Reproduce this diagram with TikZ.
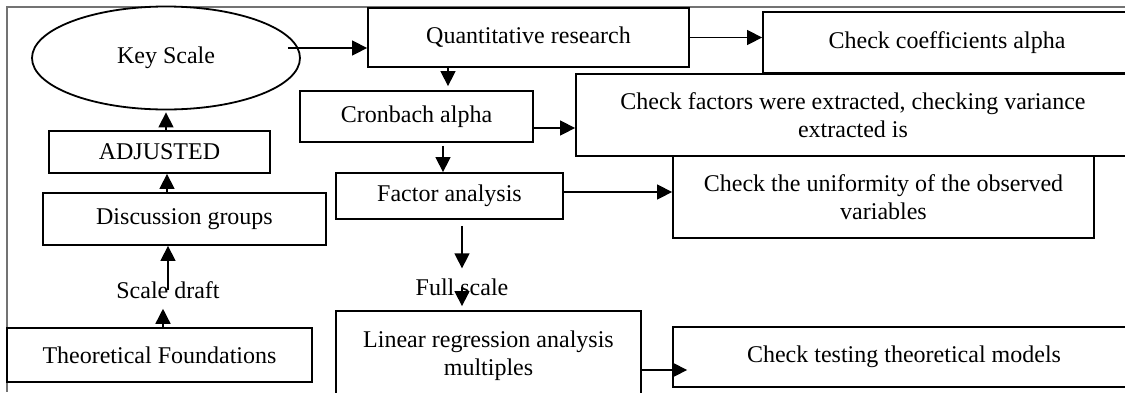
\documentclass[tikz,border=0pt]{standalone}
\usepackage{fontspec}
\setmainfont{Liberation Serif}
\usepackage{tikz}
\usetikzlibrary{shapes.geometric}
\usetikzlibrary{arrows.meta}

\begin{document}
\begin{tikzpicture}[x=1pt, y=-1pt]
    \tikzstyle processbox=[draw, line width=1.8pt, fill=white, inner sep=0pt, align=center, font=\fontsize{24}{27.5}\selectfont]
    \tikzstyle plaintext=[inner sep=10pt, font=\fontsize{24}{27.5}\selectfont]
    \tikzstyle flow=[line width=1.4pt, -{Triangle[length=15pt,width=15pt]}]
    \path[use as bounding box, clip] (0,0) rectangle (1125,392);
    \draw[line width=1.2pt, black!55] (1125,7) -- (7,7) -- (7,392);
    % left column
    \node[processbox, ellipse, minimum width=268pt, minimum height=103pt] (keyscale) at (166,58) {Key Scale};
    \node[processbox, minimum width=221pt, minimum height=42pt] (adjusted) at (159.5,152) {ADJUSTED};
    \node[processbox, minimum width=283pt, minimum height=52pt] (discussion) at (184.5,219) {Discussion groups};
    \node[plaintext] (scaledraft) at (168,290) {Scale draft};
    \node[processbox, minimum width=305pt, minimum height=54pt] (theory) at (159.5,355) {Theoretical Foundations};
    % middle column
    \node[processbox, minimum width=321pt, minimum height=59pt] (quant) at (528.5,37.5) {Quantitative research};
    \node[processbox, minimum width=233pt, minimum height=51pt] (cronbach) at (416.5,116.5) {Cronbach alpha};
    \node[processbox, minimum width=227pt, minimum height=46pt] (factor) at (449.5,196) {Factor analysis};
    \node[plaintext] (fullscale) at (462,287) {Full scale};
    \node[processbox, minimum width=305pt, minimum height=89pt] (linear) at (488.5,355.5) {Linear regression analysis\\multiples};
    % checks on the right
    \node[processbox, minimum width=368pt, minimum height=61pt] (coeff) at (947,42.5) {Check coefficients alpha};
    \node[processbox, minimum width=554pt, minimum height=82pt] (factors) at (853,115) {Check factors were extracted, checking variance\\extracted is};
    \node[processbox, minimum width=421pt, minimum height=82pt] (uniform) at (883.5,197) {Check the uniformity of the observed\\variables};
    \node[processbox, minimum width=462pt, minimum height=60pt] (testing) at (904,357) {Check testing theoretical models};
    % arrows
    \draw[flow] ([xshift=3.5pt]theory.north) -- ([xshift=3.5pt]theory.north |- scaledraft.south);
    \draw[flow] (scaledraft.center) -- (scaledraft.center |- discussion.south);
    \coordinate (dsup) at ([xshift=7.5pt]adjusted.south);
    \draw[flow] (dsup |- discussion.north) -- (dsup);
    \draw[flow, shorten >=2pt] (keyscale.south |- adjusted.north) -- (keyscale.south);
    \coordinate (ksout) at ([xshift=-13pt,yshift=10pt]keyscale.east);
    \draw[flow] (ksout) -- (ksout -| quant.west);
    \draw[flow] (quant.east) -- (quant.east -| coeff.west);
    \coordinate (qdown) at ([xshift=-80.5pt]quant.south);
    \draw[flow, shorten >=4pt] (qdown) -- (qdown |- cronbach.north);
    \coordinate (crout) at ([yshift=-11.5pt]cronbach.east);
    \draw[flow] (crout) -- (crout -| factors.west);
    \coordinate (crdown) at ([xshift=-6.5pt]factor.north);
    \draw[flow, shorten <=3pt] (crdown |- cronbach.south) -- (crdown);
    \coordinate (faout) at ([yshift=4pt]factor.east);
    \draw[flow] (faout) -- (faout -| uniform.west);
    \coordinate (fadown) at ([xshift=12.5pt]factor.south);
    \draw[flow, shorten <=6pt] (fadown) -- (fadown |- fullscale.north);
    \draw[flow, shorten >=4pt] (fullscale.center) -- (fullscale.center |- linear.north);
    \coordinate (lnout) at ([yshift=-14.5pt]linear.east);
    \draw[flow, shorten >=-15pt] (lnout) -- (lnout -| testing.west);
\end{tikzpicture}
\end{document}
